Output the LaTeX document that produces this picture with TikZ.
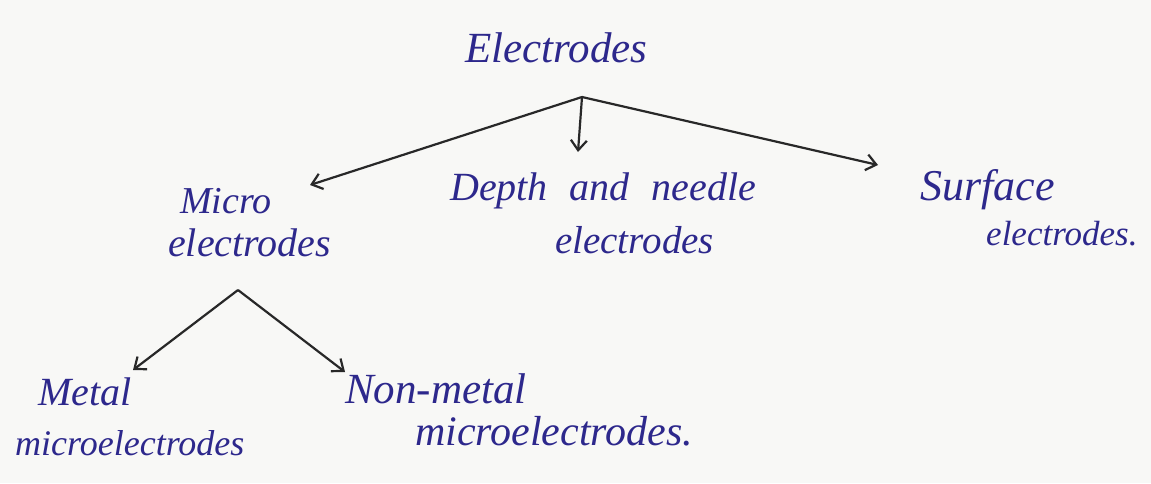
\documentclass[tikz,border=0pt]{standalone}
\usetikzlibrary{arrows.meta}
\usepackage{fontspec}
\setmainfont{Liberation Serif}
\definecolor{ink}{RGB}{45,40,140}
\definecolor{paper}{RGB}{248,248,246}
\definecolor{pen}{RGB}{40,40,40}
\newcommand{\fs}[1]{\fontsize{#1}{#1}\selectfont}
\begin{document}
\begin{tikzpicture}[x=1pt,y=-1pt,
  lbl/.style={text=ink,font=\itshape\fs{40},inner sep=0pt,anchor=base west},
  arr/.style={draw=pen,line width=2.2pt,-{Straight Barb[length=10pt,width=16pt]}}]
\fill[paper] (0,0) rectangle (1151,483);
\useasboundingbox (0,0) rectangle (1151,483);
\node[lbl,font=\itshape\fs{43}] (root) at (465,62) {Electrodes};
\node[lbl,font=\itshape\fs{38}] (micro) at (180,213) {Micro};
\node[lbl] (microb) at (168,256) {electrodes};
\node[lbl,font=\itshape\fs{40}] (depth) at (450,200) {Depth\hspace{22pt}and\hspace{22pt}needle};
\node[lbl,font=\itshape\fs{39}] (depthb) at (555,253) {electrodes};
\node[lbl,font=\itshape\fs{44}] (surf) at (920,200) {Surface};
\node[lbl,font=\itshape\fs{35}] (surfb) at (986,245) {electrodes.};
\node[lbl] (metal) at (38,405) {Metal};
\node[lbl,font=\itshape\fs{36}] (metalb) at (15,455) {microelectrodes};
\node[lbl,font=\itshape\fs{43}] (non) at (345,403) {Non-metal};
\node[lbl,font=\itshape\fs{42}] (nonb) at (415,445) {microelectrodes.};
\coordinate (b1) at (582,97);
\coordinate (t1) at (578,152);
\coordinate (t2) at (310,185);
\coordinate (t3) at (878,165);
\coordinate (b2) at (238,290);
\coordinate (t4) at (133,370);
\coordinate (t5) at (345,372);
\draw[arr] (b1) -- (t1);
\draw[arr] (b1) -- (t2);
\draw[arr] (b1) -- (t3);
\draw[arr] (b2) -- (t4);
\draw[arr] (b2) -- (t5);
\end{tikzpicture}
\end{document}
